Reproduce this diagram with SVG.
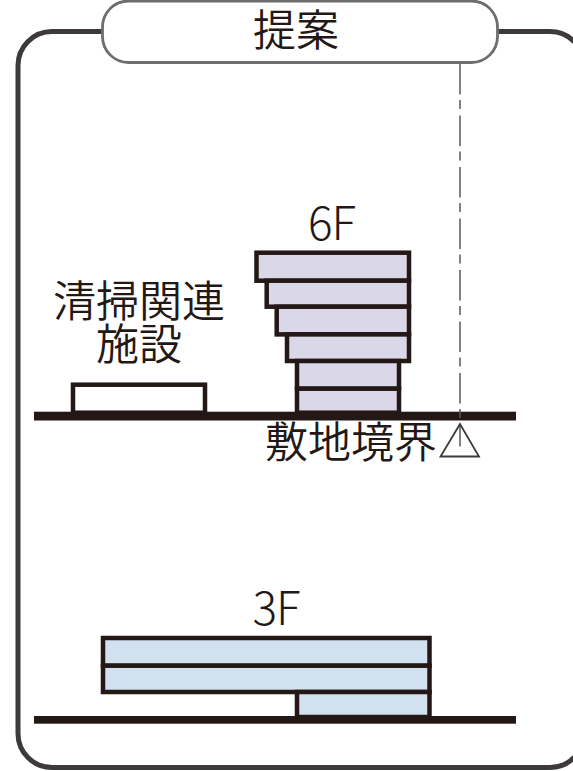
<svg xmlns="http://www.w3.org/2000/svg" width="573" height="771" viewBox="0 0 573 771">
<style>
text{font-family:"Noto Sans CJK JP","Noto Sans",sans-serif;font-weight:350;font-size:43px;fill:#231815;text-anchor:middle}
.l{font-size:46px;letter-spacing:-1px;font-weight:300}
.f{stroke:#231815;stroke-width:4.5;stroke-linejoin:miter}
.p{fill:#dad7e8}
.b{fill:#d2e1ef}
.g{fill:#231815}
</style>
<rect width="573" height="771" fill="#fff"/>
<g id="frame"><rect x="18" y="31.500" width="566" height="736" rx="34" fill="none" stroke="#3e3a39" stroke-width="5"/></g>
<g id="title"><rect x="102.500" y="1" width="395" height="61.500" rx="26" fill="#fff" stroke="#6d6d6d" stroke-width="2.800"/><text x="296" y="46">提案</text></g>
<g id="ground-top"><rect class="g" x="34" y="411.700" width="482" height="8.800"/></g>
<g id="connectors"><path d="M460 64V446.500" fill="none" stroke="#595757" stroke-width="1.500" stroke-dasharray="30.500 5.500 9 6.500"/></g>
<g id="building-6f">
<text class="l" x="331.500" y="240">6F</text>
<rect class="f p" x="256.500" y="252.700" width="152.500" height="28"/>
<rect class="f p" x="266.700" y="280.700" width="142.300" height="26"/>
<rect class="f p" x="276.700" y="306.700" width="132.300" height="27.700"/>
<rect class="f p" x="287" y="334.400" width="122" height="26.600"/>
<rect class="f p" x="297" y="361" width="102" height="27.700"/>
<rect class="f p" x="297" y="388.700" width="102" height="24"/>
</g>
<g id="facility">
<text x="139" y="317">清掃関連<tspan x="139" y="360">施設</tspan></text>
<rect class="f" x="73" y="384.700" width="132" height="28" fill="#fff"/>
</g>
<g id="boundary">
<text x="351" y="458">敷地境界</text>
<path d="M460 424L440.500 456.500H479Z" fill="none" stroke="#3e3a39" stroke-width="1.800"/>
</g>
<g id="building-3f">
<text class="l" x="276" y="625">3F</text>
<rect class="f b" x="103" y="638" width="326.500" height="27.700"/>
<rect class="f b" x="103" y="665.700" width="326.500" height="26.300"/>
<rect class="f b" x="297" y="692" width="132.500" height="25"/>
</g>
<g id="ground-bottom"><rect class="g" x="34" y="716" width="482" height="7.700"/></g>
</svg>
